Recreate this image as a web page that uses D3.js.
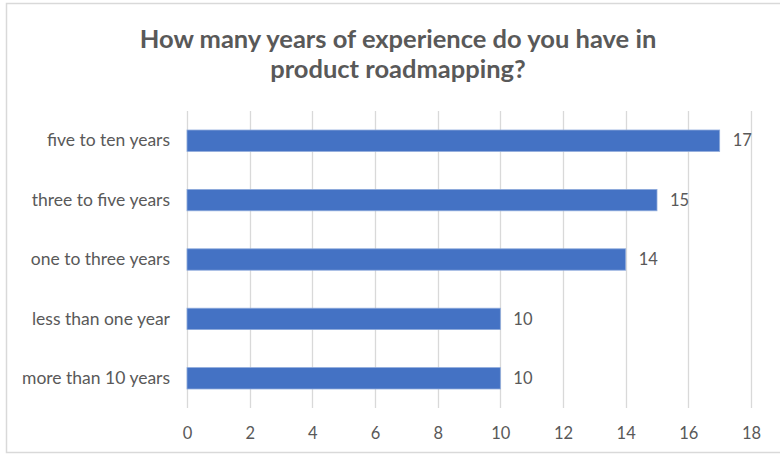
<!DOCTYPE html>
<html>
<head>
<meta charset="utf-8">
<script src="https://cdn.jsdelivr.net/npm/d3@7"></script>
<style>
  html, body { margin: 0; padding: 0; background: #fff; }
  svg { display: block; }
  text { font-family: Lato, "Open Sans", sans-serif; }
</style>
</head>
<body>
<svg id="chart" width="780" height="455"></svg>
<script>
// Survey answers, listed top to bottom
const categories = [
  "five to ten years",
  "three to five years",
  "one to three years",
  "less than one year",
  "more than 10 years"
];
const counts = [17, 15, 14, 10, 10];
const xTicks = [0, 2, 4, 6, 8, 10, 12, 14, 16, 18];
const titleLines = [
  "How many years of experience do you have in",
  "product roadmapping?"
];

const svg = d3.select("#chart");
const W = 780, H = 455;
const textColor = "#595959";
const barColor = "#4472c4";
const font = "Lato, \"Open Sans\", sans-serif";

// Outer chart frame
svg.append("rect")
  .attr("x", 6.5).attr("y", 3.5)
  .attr("width", W).attr("height", 449)
  .attr("fill", "#fff")
  .attr("stroke", "#d9d9d9")
  .attr("stroke-width", 1.5);

// Title
svg.append("text")
  .attr("text-anchor", "middle")
  .attr("fill", textColor)
  .attr("font-size", 25.5)
  .attr("font-weight", "bold")
  .selectAll("tspan")
  .data(titleLines)
  .join("tspan")
  .attr("x", 398)
  .attr("y", (d, i) => 48 + i * 30)
  .text(d => d);

const plot = { left: 187, right: 751, top: 111, bottom: 408 };

const x = d3.scaleLinear()
  .domain([0, 18])
  .range([plot.left, plot.right]);

const y = d3.scaleBand()
  .domain(categories)
  .range([plot.top, plot.bottom])
  .paddingInner(0.64)
  .paddingOuter(0.32);

// Vertical gridlines
svg.append("g")
  .selectAll("line")
  .data(xTicks)
  .join("line")
  .attr("x1", d => Math.round(x(d)) + 0.5)
  .attr("x2", d => Math.round(x(d)) + 0.5)
  .attr("y1", plot.top)
  .attr("y2", plot.bottom)
  .attr("stroke", "#d9d9d9")
  .attr("stroke-width", 1.3);

// Bottom axis labels
const xAxis = d3.axisBottom(x)
  .tickValues(xTicks)
  .tickSize(0)
  .tickPadding(0)
  .tickFormat(d3.format("d"));

const gx = svg.append("g")
  .attr("transform", `translate(0, ${plot.bottom + 31})`)
  .call(xAxis);
gx.select(".domain").remove();
gx.selectAll("text")
  .attr("fill", textColor)
  .attr("font-size", 16.5)
  .attr("dy", 0)
  .attr("font-family", font);

// Category labels
const yAxis = d3.axisLeft(y).tickSize(0).tickPadding(17);
const gy = svg.append("g")
  .attr("transform", `translate(${plot.left}, 0)`)
  .call(yAxis);
gy.select(".domain").remove();
gy.selectAll("text")
  .attr("fill", textColor)
  .attr("font-size", 17.5)
  .attr("font-family", font);

// Bars
svg.append("g")
  .selectAll("rect")
  .data(categories)
  .join("rect")
  .attr("x", x(0))
  .attr("y", d => y(d))
  .attr("width", (d, i) => x(counts[i]) - x(0))
  .attr("height", y.bandwidth())
  .attr("fill", barColor)
  .attr("stroke", "#8eaadb")
  .attr("stroke-width", 0.8);

// Value labels at bar ends
svg.append("g")
  .selectAll("text")
  .data(categories)
  .join("text")
  .attr("x", (d, i) => x(counts[i]) + 13)
  .attr("y", d => y(d) + y.bandwidth() / 2)
  .attr("dy", "0.35em")
  .attr("fill", textColor)
  .attr("font-size", 16.5)
  .text((d, i) => counts[i]);
</script>
</body>
</html>
